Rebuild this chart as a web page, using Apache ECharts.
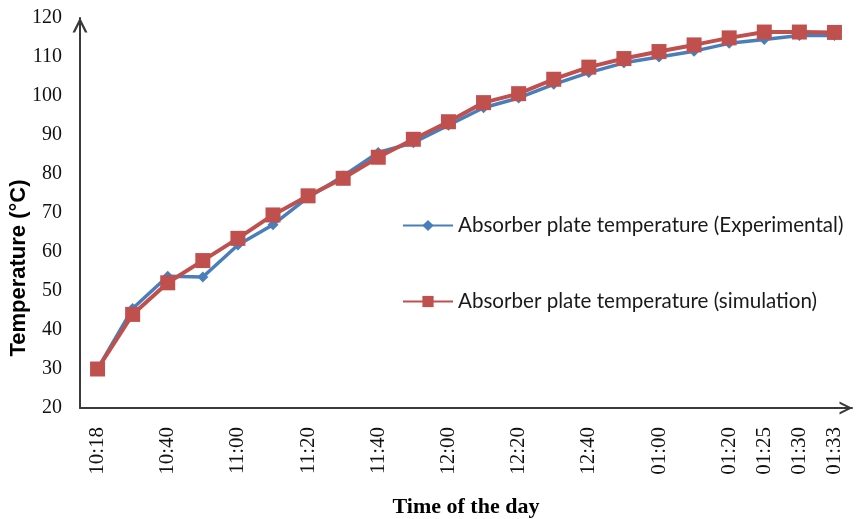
<!DOCTYPE html>
<html>
<head>
<meta charset="utf-8">
<script src="https://cdn.jsdelivr.net/npm/echarts@6/dist/echarts.min.js"></script>
<style>
html,body{margin:0;padding:0;background:#fff;}
#c{width:858px;height:519px;}
</style>
</head>
<body>
<div id="c"></div>
<script>
var categories = ['10:18','','10:40','','11:00','','11:20','','11:40','','12:00','','12:20','','12:40','','01:00','','01:20','01:25','01:30','01:33'];
var experimental = [30, 45.5, 53.8, 53.6, 61.8, 67, 74, 79.5, 85.5, 88, 92.5, 97, 99.5, 103, 106, 108.5, 110, 111.5, 113.5, 114.5, 115.5, 115.5];
var simulation = [30, 44, 52.1, 57.8, 63.5, 69.5, 74.4, 78.9, 84.3, 88.9, 93.4, 98.3, 100.6, 104.3, 107.4, 109.6, 111.4, 113.1, 114.9, 116.4, 116.4, 116.3];
var yTicks = {min: 20, max: 120, interval: 10};
var seriesNames = ['Absorber plate temperature (Experimental)', 'Absorber plate temperature (simulation)'];

var chevron = 'path://M0,10 L5,0 L10,10 L8.3,10 L5,3.4 L1.7,10 Z';
var axisColor = '#3a3a3a';
var chart = echarts.init(document.getElementById('c'), null, {renderer: 'canvas'});
chart.setOption({
  animation: false,
  backgroundColor: '#ffffff',
  grid: {left: 80, right: 6, top: 18, bottom: 111, containLabel: false, outerBoundsMode: 'none'},
  legend: {
    orient: 'vertical',
    left: 402,
    top: 215,
    padding: 0,
    itemWidth: 50,
    itemHeight: 14,
    itemGap: 55,
    textStyle: {fontFamily: 'Lato', fontSize: 20.6, color: '#1a1a1a', lineHeight: 20, padding: [0,0,0,0]},
    data: seriesNames
  },
  xAxis: {
    type: 'category',
    data: categories,
    boundaryGap: true,
    name: 'Time of the day',
    nameLocation: 'middle',
    nameGap: 88,
    nameMoveOverlap: false,
    nameTextStyle: {fontFamily: 'Liberation Serif', fontWeight: 'bold', fontSize: 22, color: '#000'},
    axisLine: {show: true, lineStyle: {color: axisColor, width: 2}, symbol: ['none', chevron], symbolSize: [17, 13], symbolOffset: [0, -6]},
    axisTick: {show: false},
    axisLabel: {interval: 0, rotate: 90, margin: 19, fontFamily: 'Liberation Serif', fontSize: 21, color: '#111'},
    splitLine: {show: false}
  },
  yAxis: {
    type: 'value',
    min: yTicks.min,
    max: yTicks.max,
    interval: yTicks.interval,
    name: 'Temperature (°C)',
    nameLocation: 'middle',
    nameGap: 50,
    nameMoveOverlap: false,
    nameTextStyle: {fontFamily: 'Liberation Sans', fontWeight: 'bold', fontSize: 22, color: '#000', padding: [0, 110, 0, 0]},
    axisLine: {show: true, lineStyle: {color: axisColor, width: 2}, symbol: ['none', chevron], symbolSize: [19, 15], symbolOffset: [0, -7]},
    axisTick: {show: false},
    axisLabel: {margin: 18, fontFamily: 'Liberation Serif', fontSize: 20, color: '#111'},
    splitLine: {show: false}
  },
  series: [
    {
      name: seriesNames[0],
      type: 'line',
      data: experimental,
      symbol: 'diamond',
      symbolSize: 11,
      lineStyle: {color: '#4A7EBB', width: 3.5},
      itemStyle: {color: '#4A7EBB'},
      z: 2
    },
    {
      name: seriesNames[1],
      type: 'line',
      data: simulation,
      symbol: 'rect',
      symbolSize: 15,
      lineStyle: {color: '#C0504D', width: 4},
      itemStyle: {color: '#C0504D'},
      z: 3
    }
  ]
});
</script>
</body>
</html>
